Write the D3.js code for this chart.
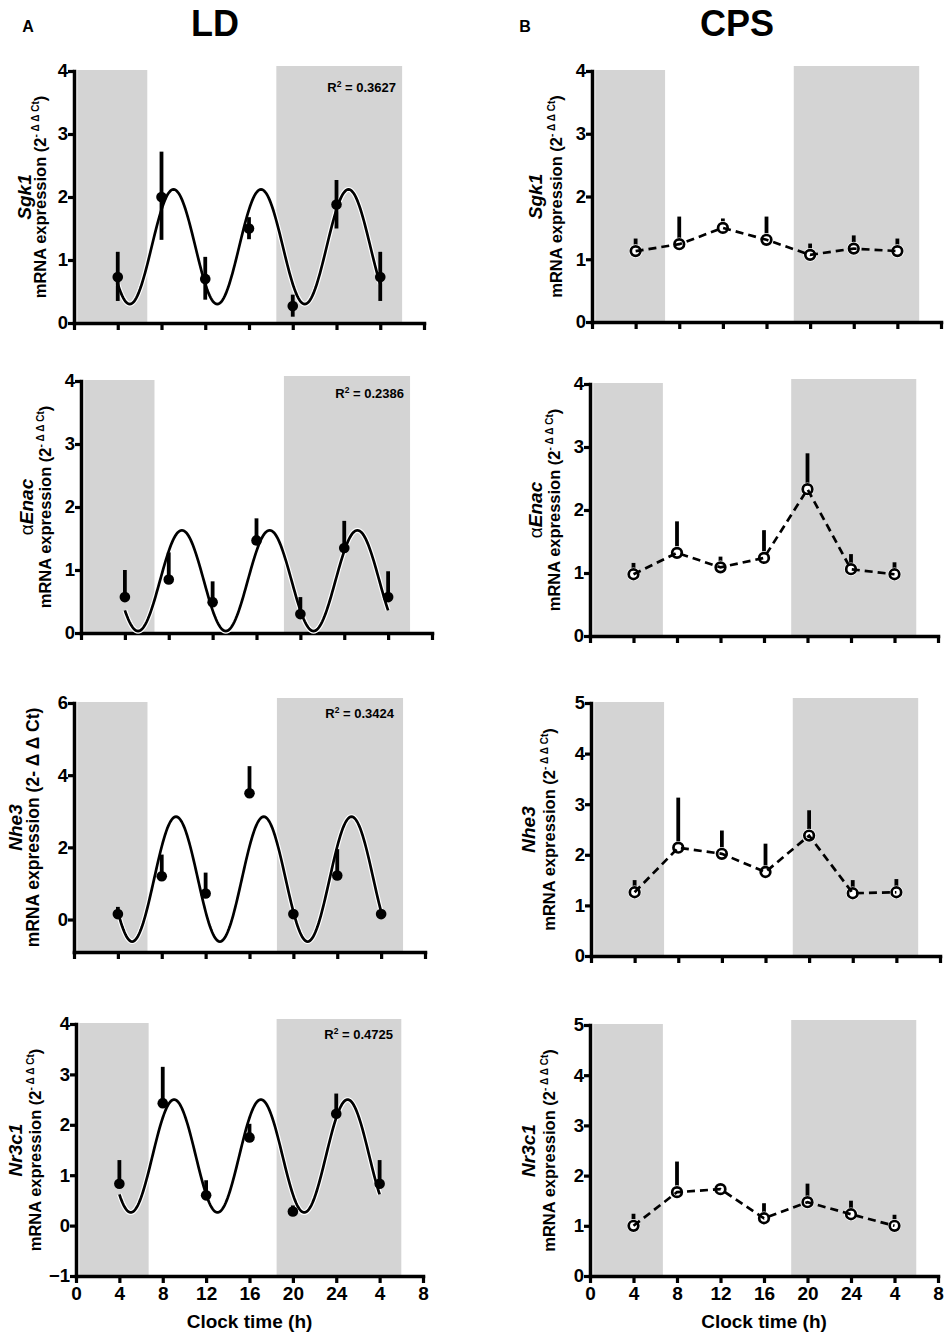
<!DOCTYPE html>
<html>
<head>
<meta charset="utf-8">
<script src="https://cdn.jsdelivr.net/npm/d3@7"></script>
<style>
  body { margin: 0; background: white; }
  text { font-family: "Liberation Sans", Arial, sans-serif; font-weight: bold; }
</style>
</head>
<body>
<script>
// sampling times (clock time, second "4" = 28)
var hours = [4, 8, 12, 16, 20, 24, 28];
var tickHours = [0, 4, 8, 12, 16, 20, 24, 28, 32];
var tickLabels = ["0", "4", "8", "12", "16", "20", "24", "4", "8"];
var darkPeriods = [[0.3, 6.7], [18.5, 30.0]];

var genes = ["Sgk1", "Enac", "Nhe3", "Nr3c1"];

// LD (filled points + cosinor fit)
var ldSgk1 = [0.73, 2.0, 0.7, 1.5, 0.27, 1.88, 0.73];
var ldSgk1Lo = [0.35, 1.32, 0.37, 1.33, 0.1, 1.5, 0.35];
var ldSgk1Hi = [1.13, 2.72, 1.05, 1.68, 0.45, 2.27, 1.13];
var ldEnac = [0.57, 0.85, 0.49, 1.47, 0.3, 1.35, 0.57];
var ldEnacHi = [1.0, 1.28, 0.82, 1.82, 0.57, 1.78, 0.98];
var ldNhe3 = [0.15, 1.2, 0.72, 3.5, 0.15, 1.22, 0.15];
var ldNhe3Hi = [0.35, 1.8, 1.3, 4.25, 0.15, 1.95, 0.15];
var ldNr3c1 = [0.83, 2.43, 0.6, 1.75, 0.28, 2.22, 0.83];
var ldNr3c1Hi = [1.3, 3.15, 0.9, 2.02, 0.4, 2.62, 1.3];

// cosinor fits (period 8 h)
var fitMesor = [1.21, 0.83, 1.12, 1.38];
var fitAmp = [0.91, 0.80, 1.73, 1.12];
var fitPeak = [9.1, 9.2, 9.3, 9.05];
var fitPeriod = 8;
var r2 = ["0.3627", "0.2386", "0.3424", "0.4725"];

// CPS (open points, dashed line)
var cpsSgk1 = [1.13, 1.24, 1.5, 1.31, 1.07, 1.17, 1.13];
var cpsSgk1Hi = [1.33, 1.68, 1.65, 1.68, 1.25, 1.38, 1.33];
var cpsEnac = [0.98, 1.32, 1.09, 1.24, 2.33, 1.06, 0.98];
var cpsEnacHi = [1.16, 1.82, 1.26, 1.68, 2.9, 1.3, 1.17];
var cpsNhe3 = [1.26, 2.14, 2.02, 1.66, 2.38, 1.24, 1.26];
var cpsNhe3Hi = [1.5, 3.13, 2.48, 2.22, 2.88, 1.5, 1.52];
var cpsNr3c1 = [1.0, 1.67, 1.73, 1.15, 1.47, 1.23, 1.0];
var cpsNr3c1Hi = [1.24, 2.28, 1.73, 1.45, 1.84, 1.5, 1.22];

var ldTicks = [[0, 1, 2, 3, 4], [0, 1, 2, 3, 4], [0, 2, 4, 6], [-1, 0, 1, 2, 3, 4]];
var ldDomains = [[0, 4], [0, 4], [-0.9, 6], [-1, 4]];
var cpsTicks = [[0, 1, 2, 3, 4], [0, 1, 2, 3, 4], [0, 1, 2, 3, 4, 5], [0, 1, 2, 3, 4, 5]];
var cpsDomains = [[0, 4], [0, 4], [0, 5], [0, 5]];

// pixel layout of each panel
var ldBox = [
  {x0: 74, x1: 424, top: 71, bot: 323, geneX: 31, mrnaX: 46, r2x: 396, r2y: 92},
  {x0: 81, x1: 432, top: 381, bot: 633, geneX: 33, mrnaX: 51, r2x: 404, r2y: 398},
  {x0: 74, x1: 425, top: 703, bot: 952, geneX: 22, mrnaX: 39, r2x: 394, r2y: 718},
  {x0: 76, x1: 423, top: 1024, bot: 1276, geneX: 22, mrnaX: 41, r2x: 393, r2y: 1039}
];
var cpsBox = [
  {x0: 592, x1: 941, top: 71, bot: 322, geneX: 542, mrnaX: 562},
  {x0: 590, x1: 938, top: 384, bot: 636, geneX: 542, mrnaX: 560},
  {x0: 591, x1: 940, top: 703, bot: 956, geneX: 535, mrnaX: 555},
  {x0: 590, x1: 938, top: 1025, bot: 1276, geneX: 535, mrnaX: 555}
];

var ldVals = [ldSgk1, ldEnac, ldNhe3, ldNr3c1];
var ldLo = [ldSgk1Lo, ldEnac, ldNhe3, ldNr3c1];
var ldHi = [ldSgk1Hi, ldEnacHi, ldNhe3Hi, ldNr3c1Hi];
var cpsVals = [cpsSgk1, cpsEnac, cpsNhe3, cpsNr3c1];
var cpsHi = [cpsSgk1Hi, cpsEnacHi, cpsNhe3Hi, cpsNr3c1Hi];

var svg = d3.select('body')
        .append('svg')
        .attr("width", 949)
        .attr("height", 1339)
        .style("background", "white");

// headers
svg.append("text").attr("x", 28).attr("y", 32).attr("text-anchor", "middle")
   .style("font-size", "16px").text("A");
svg.append("text").attr("x", 215).attr("y", 36).attr("text-anchor", "middle")
   .style("font-size", "36px").text("LD");
svg.append("text").attr("x", 525).attr("y", 32).attr("text-anchor", "middle")
   .style("font-size", "16px").text("B");
svg.append("text").attr("x", 737).attr("y", 36).attr("text-anchor", "middle")
   .style("font-size", "36px").text("CPS");

function drawPanel(box, i, domain, ticks, isLD) {
    var x = d3.scaleLinear().domain([0, 32]).range([box.x0, box.x1]);
    var y = d3.scaleLinear().domain(domain).range([box.bot, box.top]);
    var g = svg.append("g");

    // dark phase shading
    g.selectAll("rect.dark")
        .data(darkPeriods)
        .enter()
        .append("rect")
        .attr("x", function(d) { return x(d[0]); })
        .attr("width", function(d) { return x(d[1]) - x(d[0]); })
        .attr("y", function(d, k) { return y(domain[1]) - (k == 0 ? 1 : 5); })
        .attr("height", function(d, k) { return box.bot - y(domain[1]) + (k == 0 ? 1 : 5); })
        .attr("fill", "#d4d4d4");

    // axes
    var xAxis = d3.axisBottom(x).tickValues(tickHours).tickSize(7).tickSizeOuter(0)
        .tickFormat(function(d, k) { return i == 3 ? tickLabels[k] : ""; });
    var yAxis = d3.axisLeft(y).tickValues(ticks).tickSize(6).tickSizeOuter(0)
        .tickFormat(d3.format("d"));

    var xa = g.append("g").attr("transform", "translate(0," + box.bot + ")").call(xAxis);
    var ya = g.append("g").attr("transform", "translate(" + box.x0 + ",0)").call(yAxis);
    [xa, ya].forEach(function(a) {
        a.select(".domain").attr("stroke", "black").attr("stroke-width", 3.5)
            .attr("stroke-linecap", "square");
        a.selectAll(".tick line").attr("stroke", "black").attr("stroke-width", 3.2);
        a.selectAll("text").attr("fill", "black")
            .style("font-family", "'Liberation Sans', Arial, sans-serif")
            .style("font-weight", "bold");
    });
    xa.selectAll("text").style("font-size", "19px").attr("y", 11);
    ya.selectAll("text").style("font-size", "18.5px").attr("x", -6);

    // y-axis labels
    var midY = (box.top + box.bot) / 2;
    var gl = g.append("text")
        .attr("transform", "translate(" + box.geneX + "," + midY + ") rotate(-90)")
        .attr("text-anchor", "middle")
        .style("font-size", "19px");
    if (genes[i] == "Enac") {
        gl.append("tspan").style("font-weight", "normal").text("α");
    }
    gl.append("tspan").style("font-style", "italic").text(genes[i]);

    var ml = g.append("text")
        .attr("transform", "translate(" + box.mrnaX + "," + midY + ") rotate(-90)")
        .attr("text-anchor", "middle");
    if (isLD && i == 2) {
        ml.style("font-size", "17.5px").text("mRNA expression (2- Δ Δ Ct)");
    } else {
        ml.style("font-size", "16.5px");
        ml.append("tspan").text("mRNA expression (2");
        ml.append("tspan").attr("dy", -7).style("font-size", "10px").text("- Δ Δ Ct");
        ml.append("tspan").attr("dy", 7).text(")");
    }

    var pts = hours.map(function(h, k) {
        return isLD ? {h: h, v: ldVals[i][k], lo: ldLo[i][k], hi: ldHi[i][k]}
                    : {h: h, v: cpsVals[i][k], lo: cpsVals[i][k], hi: cpsHi[i][k]};
    });

    if (isLD) {
        var curve = d3.range(4, 28.001, 0.1).map(function(t) {
            return [t, fitMesor[i] + fitAmp[i] * Math.cos(2 * Math.PI * (t - fitPeak[i]) / fitPeriod)];
        });
        var line = d3.line()
            .x(function(d) { return x(d[0]); })
            .y(function(d) { return y(d[1]); });
        g.append("path").datum(curve).attr("d", line)
            .attr("fill", "none").attr("stroke", "white").attr("stroke-width", 5);
        g.append("path").datum(curve).attr("d", line)
            .attr("fill", "none").attr("stroke", "black").attr("stroke-width", 2.7);

        g.append("text")
            .attr("x", box.r2x).attr("y", box.r2y)
            .attr("text-anchor", "end")
            .style("font-size", "13px")
            .html('R<tspan dy="-5" font-size="8.5px">2</tspan><tspan dy="5"> = ' + r2[i] + '</tspan>');
    }

    // error bars
    g.selectAll("line.err")
        .data(pts)
        .enter()
        .append("line")
        .attr("x1", function(d) { return x(d.h); })
        .attr("x2", function(d) { return x(d.h); })
        .attr("y1", function(d) { return y(d.lo); })
        .attr("y2", function(d) { return y(d.hi); })
        .attr("stroke", "black")
        .attr("stroke-width", 3.8);

    if (isLD) {
        g.selectAll("circle.pt")
            .data(pts)
            .enter()
            .append("circle")
            .attr("cx", function(d) { return x(d.h); })
            .attr("cy", function(d) { return y(d.v); })
            .attr("r", 5.3)
            .attr("fill", "black");
    } else {
        g.selectAll("circle.halo")
            .data(pts)
            .enter()
            .append("circle")
            .attr("cx", function(d) { return x(d.h); })
            .attr("cy", function(d) { return y(d.v); })
            .attr("r", 6.8)
            .attr("fill", "white");
        g.selectAll("circle.pt")
            .data(pts)
            .enter()
            .append("circle")
            .attr("cx", function(d) { return x(d.h); })
            .attr("cy", function(d) { return y(d.v); })
            .attr("r", 4.8)
            .attr("fill", "white")
            .attr("stroke", "black")
            .attr("stroke-width", 2.7);
        g.append("path").datum(pts)
            .attr("d", d3.line()
                .x(function(d) { return x(d.h); })
                .y(function(d) { return y(d.v); }))
            .attr("fill", "none")
            .attr("stroke", "black")
            .attr("stroke-width", 2.7)
            .attr("stroke-dasharray", "8,5");
    }

    if (i == 3) {
        g.append("text")
            .attr("x", (box.x0 + box.x1) / 2)
            .attr("y", 1328)
            .attr("text-anchor", "middle")
            .style("font-size", "19px")
            .text("Clock time (h)");
    }
}

ldBox.forEach(function(b, i) { drawPanel(b, i, ldDomains[i], ldTicks[i], true); });
cpsBox.forEach(function(b, i) { drawPanel(b, i, cpsDomains[i], cpsTicks[i], false); });
</script>
</body>
</html>
